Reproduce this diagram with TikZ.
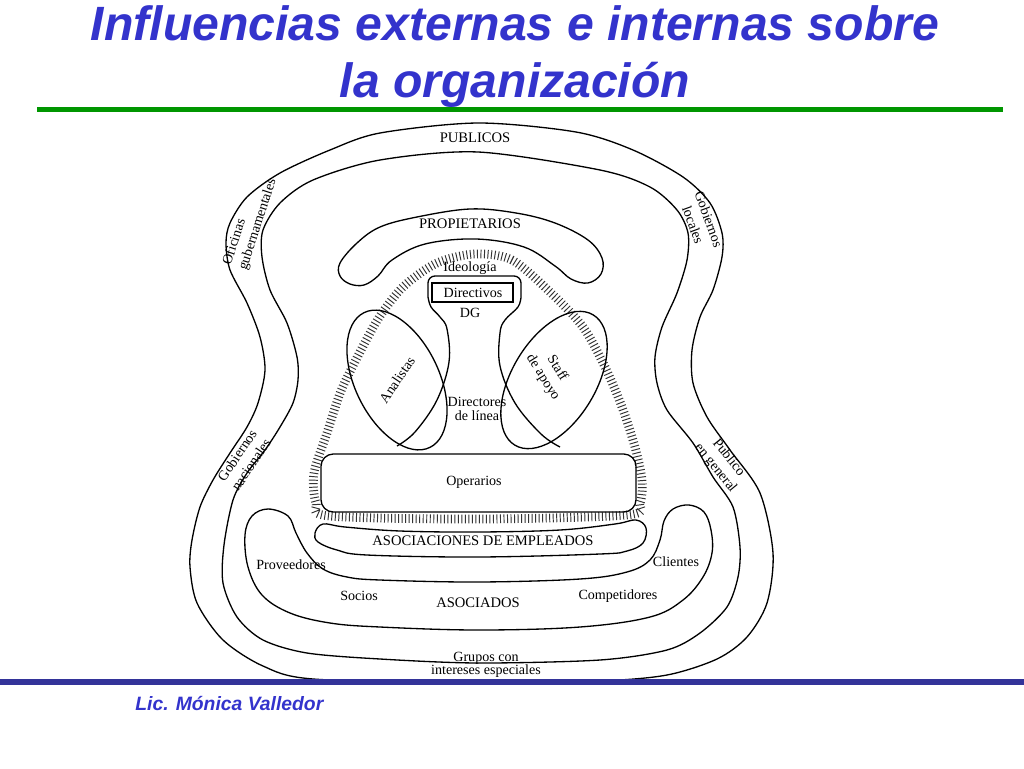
\documentclass[tikz,border=0pt]{standalone}
\usepackage{fontspec}
\setmainfont{Liberation Serif}
\newfontfamily\slidefont{Liberation Sans}
\usetikzlibrary{decorations.pathreplacing}
\definecolor{titleblue}{RGB}{51,51,204}
\definecolor{barblue}{RGB}{51,51,153}
\definecolor{bargreen}{RGB}{0,150,0}
\tikzset{
	band/.style={line width=0.75pt},
	lbl/.style={font=\fontsize{8}{8.3}\selectfont, inner sep=0pt, align=center},
	rlbl/.style={lbl, font=\fontsize{8}{9.5}\selectfont},
	caps/.style={font=\fontsize{8.3}{9}\selectfont, inner sep=0pt},
	hatch/.style={decorate, decoration={ticks, segment length=2pt, amplitude=2.5pt},
		line width=0.55pt, black!80}
}

\begin{document}
\begin{tikzpicture}[x=0.02cm,y=-0.02cm]
\useasboundingbox (0,0) rectangle (1024,768);

%title
\node[anchor=base, text=titleblue, font=\slidefont\bfseries\itshape\fontsize{27.4}{30}\selectfont, inner sep=0pt]
	(title1) at (515,40) {Influencias externas e internas sobre};
\node[anchor=base, text=titleblue, font=\slidefont\bfseries\itshape\fontsize{27.4}{30}\selectfont, inner sep=0pt]
	(title2) at (515,97) {la organización};
\draw[bargreen, line width=2.6pt] (37,109.5) -- (1003,109.5);

% publicos
\draw[band] plot[smooth cycle] coordinates {
	(478,123) (576,132) (633,150) (683,177) (710,203) (722,233) (722,257) (713,290)
	(700,317) (692,350) (693,383) (707,417) (730,450) (760,493) (773,553) (767,603)
	(747,637) (717,659) (667,675) (600,681) (478,683) (313,679) (263,666) (223,640)
	(197,603) (190,567) (192,540) (200,507) (213,480) (230,453) (247,427) (258,403)
	(265,370) (260,337) (247,303) (230,270) (226,243) (230,223) (247,197) (280,173)
	(330,150) (380,133)};
\draw[band] plot[smooth cycle] coordinates {
	(478,152) (600,170) (650,187) (677,210) (688,233) (687,260) (677,293) (662,327)
	(655,357) (657,383) (667,410) (693,443) (713,477) (733,507) (740,547) (738,577)
	(727,607) (700,633) (667,650) (600,660) (478,663) (380,659) (307,653) (263,640)
	(237,617) (223,583) (224,545) (233,500) (247,473) (265,450) (280,427) (293,403)
	(298,380) (297,357) (287,323) (270,290) (262,257) (263,230) (280,203) (313,180)
	(380,160)};

% propietarios
\draw[band] plot[smooth cycle, tension=0.6] coordinates {
	(340,263) (340,276) (350,284) (364,285) (378,276) (392,260) (425,244) (476,239)
	(524,247) (555,266) (571,279) (588,283) (601,274) (602,258) (588,240) (555,223)
	(516,213) (470,209) (417,217) (380,227) (357,243)};

% asociados
\draw[band] plot[smooth cycle, tension=0.6] coordinates {
	(268,509) (288,516) (296,533) (307,553) (323,569) (347,577) (380,580) (478,582)
	(580,579) (627,572) (650,560) (660,540) (664,521) (673,509) (689,505) (704,512)
	(711,530) (712,553) (703,577) (683,600) (650,617) (580,627) (478,630) (380,627)
	(330,623) (290,613) (262,595) (248,567) (245,535) (252,516)};

% asociaciones de empleados
\draw[band] plot[smooth cycle, tension=0.6] coordinates {
	(315,533) (323,524) (345,527) (400,531) (478,532) (560,530) (615,524) (636,520)
	(646,528) (643,543) (627,551) (600,554) (478,557) (367,555) (337,550) (318,542)};

% ideologia ring
\draw[hatch] plot[smooth cycle] coordinates {
	(475,254) (512,260) (550,292) (583,327) (605,367) (622,407) (635,447) (642,480)
	(640,503) (627,515) (478,519) (330,516) (316,503) (314,473) (327,433) (341,391)
	(360,352) (380,316) (404,286) (437,263)};

% DG and directores de linea
\draw[band] plot[smooth, tension=0.6] coordinates {
	(397,446) (415,432) (437,400) (449,362) (447,329) (440,317) (431,307) (428,297)}
	[rounded corners=4pt] -- (428,276) -- (521,276) -- (521,297) [sharp corners]
	-- plot[smooth, tension=0.6] coordinates {
	(521,297) (518,307) (505,320) (500,333) (500,366) (515,403) (541,434) (560,447)};
\draw[line width=0.6pt] (432,283) rectangle (513,302);

% analistas, staff
\draw[band, rotate around={-64:(397,380)}] (397,380) ellipse (75 and 42);
\draw[band, rotate around={59:(554,380)}] (554,380) ellipse (76 and 42);

% operarios
\draw[band, rounded corners=7pt] (321,454) rectangle (636,512);

% labels
\node[caps] (publicos) at (475,138) {PUBLICOS};
\node[caps] (propietarios) at (470,224) {PROPIETARIOS};
\node[lbl] (ideologia) at (470,268) {Ideología};
\node[lbl] (directivos) at (473,293) {Directivos};
\node[lbl] (dg) at (470,313) {DG};
\node[lbl, rotate=56] (analistas) at (397,380) {Analistas};
\node[rlbl, rotate=-58] (staff) at (550,373) {Staff\\de apoyo};
\node[lbl] (directores) at (477,409) {Directores\\de línea};
\node[lbl] (operarios) at (474,482) {Operarios};
\node[caps] (asocemp) at (483,541) {ASOCIACIONES DE EMPLEADOS};
\node[lbl] (proveedores) at (291,565) {Proveedores};
\node[lbl] (clientes) at (676,562) {Clientes};
\node[lbl] (socios) at (359,596) {Socios};
\node[caps] (asociados) at (478,603) {ASOCIADOS};
\node[lbl] (competidores) at (618,596) {Competidores};
\node[lbl, font=\fontsize{8}{7.4}\selectfont] (grupos) at (486,665) {Grupos con\\intereses especiales};
\node[rlbl, rotate=72, align=left] (oficinas) at (250,222) {Oficinas\\gubernamentales};
\node[rlbl, rotate=-70] (gobloc) at (701,222) {Gobiernos\\locales};
\node[rlbl, rotate=56] (gobnac) at (244,460) {Gobiernos\\nacionales};
\node[rlbl, rotate=-51] (pubgen) at (722,463) {Publico\\en general};

%footer
\draw[barblue, line width=3.4pt] (0,682) -- (1024,682);
\node[anchor=base west, text=titleblue, font=\slidefont\bfseries\itshape\fontsize{11}{13}\selectfont, inner sep=0pt]
	(author) at (135,710) {Lic. Mónica Valledor};

\end{tikzpicture}
\end{document}
